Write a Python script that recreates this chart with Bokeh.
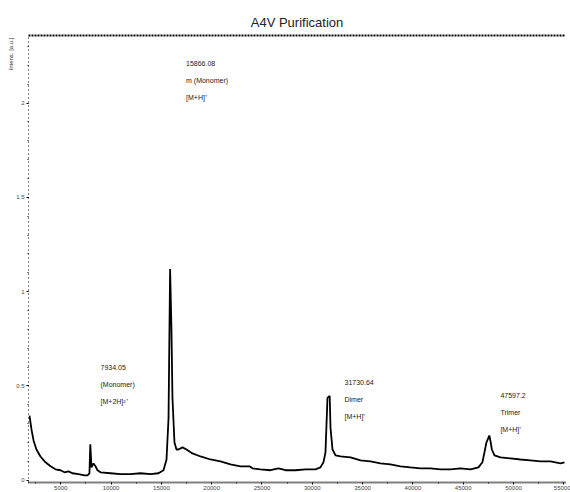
from bokeh.plotting import figure
from bokeh.models import Range1d, FixedTicker, LinearAxis, Label, Title
from bokeh.embed import file_html
from bokeh.resources import INLINE

# MALDI spectrum of the A4V purification (intensity in 10^4 a.u.)
mz = [1890, 2090, 2290, 2580, 2980, 3480, 3980, 4470, 4970, 5370, 5770, 6160,
      6760, 7360, 7650, 7850, 7934.05, 8050, 8250, 8450, 8650, 8950, 9940,
      10930, 11930, 12920, 13920, 14710, 15210, 15510, 15710, 15866.08, 16000,
      16100, 16300, 16500, 16700, 17100, 17490, 18090, 18890, 19880, 20870,
      21870, 22860, 23760, 24050, 24850, 25840, 26640, 27340, 28330, 29320,
      30320, 30810, 31110, 31310, 31510, 31730.64, 31810, 32010, 32310, 32800,
      33800, 34790, 35780, 36780, 37770, 38770, 39760, 40750, 41750, 42740,
      43740, 44730, 45720, 46520, 46910, 47110, 47310, 47597.2, 47700, 47850,
      48110, 48710, 49700, 50690, 51690, 52680, 53680, 54670, 55070]
intensity = [0.342, 0.268, 0.211, 0.163, 0.126, 0.095, 0.074, 0.058, 0.053,
             0.042, 0.047, 0.037, 0.032, 0.026, 0.026, 0.037, 0.19, 0.068,
             0.089, 0.074, 0.053, 0.042, 0.037, 0.032, 0.032, 0.037, 0.032,
             0.037, 0.053, 0.11, 0.33, 1.12, 0.80, 0.437, 0.20, 0.163, 0.163,
             0.174, 0.163, 0.142, 0.126, 0.11, 0.10, 0.084, 0.074, 0.074,
             0.063, 0.058, 0.053, 0.063, 0.053, 0.053, 0.058, 0.058, 0.068,
             0.095, 0.147, 0.437, 0.447, 0.279, 0.163, 0.132, 0.126, 0.121,
             0.105, 0.10, 0.089, 0.084, 0.074, 0.068, 0.063, 0.063, 0.058,
             0.058, 0.063, 0.058, 0.068, 0.095, 0.147, 0.20, 0.237, 0.211,
             0.163, 0.132, 0.121, 0.116, 0.110, 0.105, 0.10, 0.10, 0.089, 0.095]

# Annotated peaks
peak_mz = [7934.05, 15866.08, 31730.64, 47597.2]
peak_int = [0.19, 1.12, 0.447, 0.237]
peak_lines = [["7934.05", "(Monomer)", "[M+2H]²⁺"],
              ["15866.08", "m (Monomer)", "[M+H]⁺"],
              ["31730.64", "Dimer", "[M+H]⁺"],
              ["47597.2", "Trimer", "[M+H]⁺"]]
# label anchor (m/z, intensity) for the top line of each annotation
label_mz = [8950, 17450, 33200, 48700]
label_int = [0.60, 2.21, 0.52, 0.45]

x_ticks = [5000, 10000, 15000, 20000, 25000, 30000, 35000, 40000, 45000, 50000, 55000]
y_ticks = [0, 0.5, 1.0, 1.5, 2.0]

FONT = "Liberation Sans"

p = figure(width=570, height=492, output_backend="svg", toolbar_location=None,
           x_range=Range1d(1790, 55170), y_range=Range1d(-0.012, 2.358),
           min_border_left=28, min_border_right=5, min_border_top=35,
           min_border_bottom=4)
p.title.text = "A4V Purification"
p.title.align = "center"
p.title.text_font = FONT
p.title.text_font_style = "normal"
p.title.text_font_size = "13px"
p.title.text_color = "#222222"
p.title.offset = 0
p.title.standoff = 12

p.outline_line_color = None
p.xgrid.visible = False
p.ygrid.visible = False
p.background_fill_color = "white"
p.border_fill_color = "white"

p.line(mz, intensity, line_color="black", line_width=1.8)

for ax in p.xaxis:
    ax.ticker = FixedTicker(ticks=x_ticks, minor_ticks=list(range(2500, 56000, 2500)))
    ax.major_label_text_font = FONT
    ax.major_label_text_font_size = "6px"
    ax.major_label_standoff = 1
    ax.major_tick_out = 2
    ax.major_tick_in = 0
    ax.minor_tick_out = 1
    ax.axis_line_dash = "1 1"
    ax.axis_line_width = 2

for ax in p.yaxis:
    ax.ticker = FixedTicker(ticks=y_ticks,
                            minor_ticks=[i * 0.1 for i in range(0, 24)])
    ax.major_label_text_font = FONT
    ax.major_label_text_font_size = "6px"
    ax.major_label_standoff = 2
    ax.major_tick_out = 2
    ax.major_tick_in = 0
    ax.minor_tick_out = 1
    ax.axis_line_dash = "1 3"
    ax.axis_line_width = 1

# dotted frame line along the top
top = LinearAxis(ticker=FixedTicker(ticks=[], minor_ticks=[]),
                 major_tick_out=0, major_tick_in=0, minor_tick_out=0,
                 minor_tick_in=0, axis_line_dash="2 1", axis_line_width=2)
p.add_layout(top, "above")

# rotated intensity caption at the top of the left side
p.add_layout(Title(text="Intens. [a.u.]", align="right", text_font=FONT,
                   text_font_size="6px", text_font_style="normal",
                   text_color="#333333", offset=2, standoff=0), "left")

for lines, lx, ly in zip(peak_lines, label_mz, label_int):
    for i, t in enumerate(lines):
        p.add_layout(Label(x=lx, y=ly - i * 0.09, text=t, text_font=FONT,
                           text_font_size="7px", text_color="#222222",
                           text_baseline="middle"))

open("out.html", "w").write(file_html(p, INLINE))
